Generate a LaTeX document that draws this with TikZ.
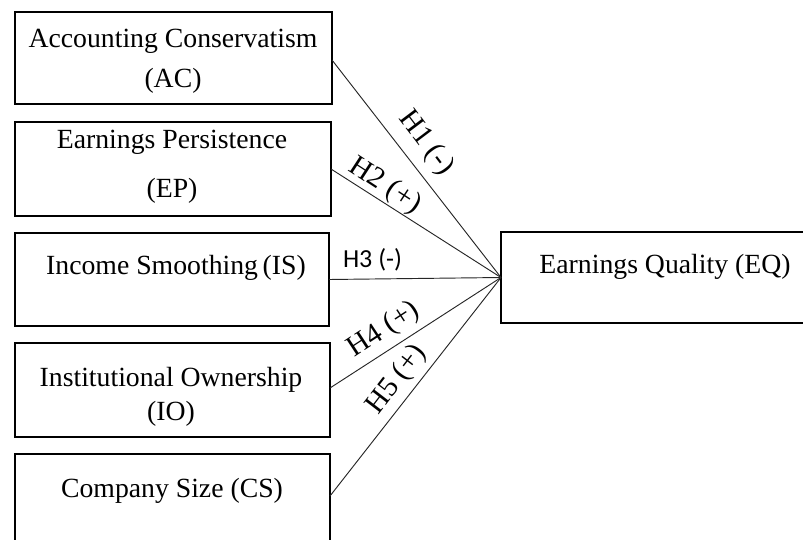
\documentclass[tikz,border=0pt]{standalone}
\usepackage{fontspec}
\setmainfont{Liberation Serif}
\newfontfamily\sansfam{Carlito}
\begin{document}
\begin{tikzpicture}[x=0.75pt,y=-0.75pt,
  box/.style={draw=black,line width=1.5pt,fill=none,inner sep=0pt,outer sep=0pt},
  txt/.style={anchor=base,inner sep=0pt,font=\rmfamily\fontsize{20.8}{25}\selectfont},
  hyp/.style={inner sep=0pt,font=\rmfamily\fontsize{22}{26}\selectfont},
  link/.style={draw=black!85,line width=0.7pt}]
\useasboundingbox (0,0) rectangle (803,539);
% boxes
\node[box,minimum width=317*0.75pt,minimum height=92*0.75pt] (ac) at (173.5,58) {};
\node[box,minimum width=316*0.75pt,minimum height=94*0.75pt] (ep) at (173,169) {};
\node[box,minimum width=314*0.75pt,minimum height=93*0.75pt] (is) at (172,279.5) {};
\node[box,minimum width=315*0.75pt,minimum height=94*0.75pt] (io) at (172.5,390) {};
\node[box,minimum width=315*0.75pt,minimum height=94*0.75pt] (cs) at (172.5,501) {};
\node[box,minimum width=311*0.75pt,minimum height=91*0.75pt] (eq) at (656.5,277.5) {};
% texts
\node[txt] (ac1) at (173,47.5) {Accounting Conservatism};
\node[txt] (ac2) at (173,87.5) {(AC)};
\node[txt] (ep1) at (172,148) {Earnings Persistence};
\node[txt] (ep2) at (172,197) {(EP)};
\node[txt] (is1) at (176,274.5) {Income Smoothing\,(IS)};
\node[txt] (io1) at (171,386.5) {Institutional Ownership};
\node[txt] (io2) at (171,420) {(IO)};
\node[txt] (cs1) at (172,497.5) {Company Size (CS)};
\node[txt] (eq1) at (665,273) {Earnings Quality (EQ)};
% connectors
\coordinate (hub) at (eq.west);
\draw[link] (ac.east |- 0,60) coordinate (acs) -- (hub);
\draw[link] (ep.east) -- (hub);
\draw[link] (is.east) -- (hub);
\draw[link] (io.east |- 0,388) coordinate (ios) -- (hub);
\draw[link] (cs.east |- 0,496) coordinate (css) -- (hub);
% labels
\node[hyp,rotate=-52.9] (h1) at (426,143) {H1 (-)};
\node[hyp,rotate=-33.1] (h2) at (385,186) {H2 (+)};
\node[anchor=base,inner sep=0pt,font=\sansfam\fontsize{19.5}{23}\selectfont] (h3) at (372.5,267.5) {H3 (-)};
\node[hyp,rotate=33.2] (h4) at (384,330) {H4 (+)};
\node[hyp,rotate=52.4] (h5) at (397,380) {H5 (+)};
\end{tikzpicture}
\end{document}
